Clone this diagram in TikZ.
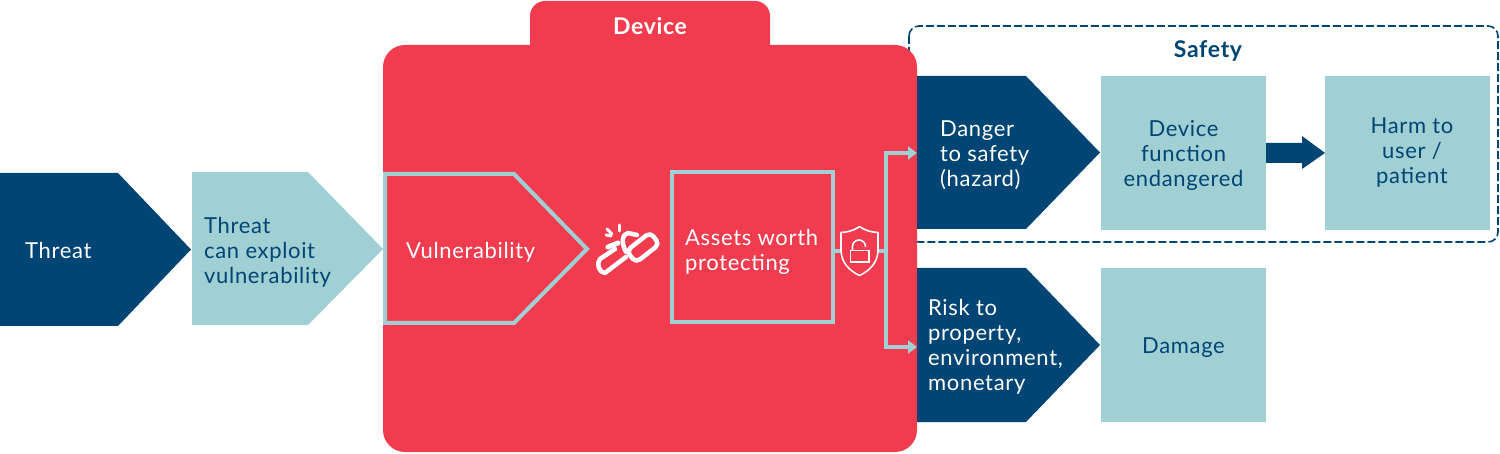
\documentclass[tikz,border=0pt]{standalone}
\usepackage{fontspec}
\setmainfont[LetterSpace=3]{Lato}
\usetikzlibrary{arrows.meta,positioning}
\definecolor{navy}{HTML}{004574}
\definecolor{teal}{HTML}{A0CFD4}
\definecolor{devred}{HTML}{F03C4E}

\begin{document}
\begin{tikzpicture}[x=1pt,y=-1pt,>={Triangle[length=9pt,width=13pt]},
    lbl/.style={inner sep=0pt,align=left,font=\fontsize{22}{25}\selectfont},
    lblc/.style={lbl,align=center,text=navy},
    box/.style={fill=teal,minimum width=165pt,minimum height=154pt,anchor=north west,inner sep=0pt,outer sep=0pt},
    wire/.style={draw=teal,line width=3.5pt},
    heading/.style={inner sep=0pt,font=\fontsize{23}{25}\selectfont\bfseries}]
    \useasboundingbox (0,0) rectangle (1500,454);

    % safety frame and device
    \draw[navy,line width=1.6pt,dash pattern=on 8pt off 3pt,rounded corners=10pt] (909,26) rectangle (1498,242);
    \fill[devred,rounded corners=15pt] (530,1) rectangle (770,70);
    \fill[devred,rounded corners=22pt] (383,45) rectangle (917,452);
    \node[heading,text=white]  (device)  at (650,26)  {Device};
    \node[heading,text=navy]   (safety)  at (1208,51) {Safety};

    % pentagons
    \fill[navy] (0,173) -- (118,173) -- (191,249.5) -- (118,326) -- (0,326) -- cycle;
    \fill[teal] (192,172) -- (308,172) -- (383,249) -- (308,325) -- (192,325) -- cycle;
    \draw[teal,line width=4pt,miter limit=4] (385,174) -- (514,174) -- (587,249) -- (514,323) -- (385,323) -- cycle;
    \fill[navy] (917,76) -- (1026,76) -- (1100,152.5) -- (1026,229) -- (917,229) -- cycle;
    \fill[navy] (917,268) -- (1026,268) -- (1100,345) -- (1026,422) -- (917,422) -- cycle;

    \node[lbl,text=white,anchor=west] (threat)  at (25,250)  {Threat};
    \node[lbl,text=navy,anchor=west]  (exploit) at (204,252) {Threat\\can exploit\\vulnerability};
    \node[lbl,text=white,anchor=west] (vuln)    at (406,252) {Vulnerability};
    \node[lbl,text=white,anchor=west] (danger)  at (940,155) {Danger\\to safety\\(hazard)};
    \node[lbl,text=white,anchor=west] (risk)    at (928,347) {Risk to\\property,\\environment,\\monetary};

    % boxes
    \node[box] (func)   at (1101,76)  {};
    \node[box] (harm)   at (1325,76)  {};
    \node[box] (damage) at (1101,268) {};
    \node[lblc] (functxt)   at (1183.5,155) {Device\\function\\endangered};
    \node[lblc] (harmtxt)   at (1412,153)   {Harm to\\user /\\patient};
    \node[lblc] (damagetxt) at (1183.5,348) {Damage};
    \node[draw=teal,line width=4pt,outer sep=0pt,minimum width=161pt,minimum height=150pt,inner sep=0pt,anchor=north west] (assets) at (672,172) {};
    \node[lbl,text=white,anchor=west] (assetstxt) at (685,251.5) {Assets worth\\protecting};

    % heavy arrow
    \fill[navy] (func.east |- 0,143) -- (1302,143) -- (1302,136) -- (harm.west) -- (1302,169) -- (1302,163) -- (func.east |- 0,163) -- cycle;

    % connectors
    \coordinate (fork) at (886,251);
    \draw[wire] (assets.east |- fork) -- (fork);
    \draw[wire,->] (fork) |- (917,153);
    \draw[wire,->] (fork) |- (917,347);

    % shield icon
    \draw[white,line width=1.6pt,fill=devred,line join=round]
      (859.5,226.5) .. controls (866,231) and (871,232) .. (878,232.5)
      -- (878,250) .. controls (878,263) and (869,271) .. (859.5,275.5)
      .. controls (850,271) and (841,263) .. (841,250) -- (841,232.5)
      .. controls (848,232) and (853,231) .. (859.5,226.5) -- cycle;
    \draw[white,line width=1.6pt] (850.5,250.5) rectangle (869,262);
    \draw[white,line width=1.6pt] (852.5,250) -- (852.5,246.5) arc[start angle=180,end angle=0,radius=6.5pt] -- (865.5,247);

    % broken chain icon
    \begin{scope}[white,line width=4.5pt,line cap=round,line join=round]
      \draw[rotate around={38:(643,247.5)},rounded corners=5pt] (628,240) rectangle (658,255);
      \draw (626,252) .. controls (621,243) and (622,234) .. (628,233) -- (637,235);
      \draw (615,249) -- (600,259) .. controls (596,263) and (599,273) .. (605,273) -- (626,257);
      \draw[line width=5pt] (608,247) -- (618,243);
      \draw[line width=3pt] (607,229) -- (612,234);
      \draw[line width=3pt] (619,225) -- (619,231);
      \draw[line width=3pt] (606,235) -- (611,236);
    \end{scope}
\end{tikzpicture}
\end{document}
